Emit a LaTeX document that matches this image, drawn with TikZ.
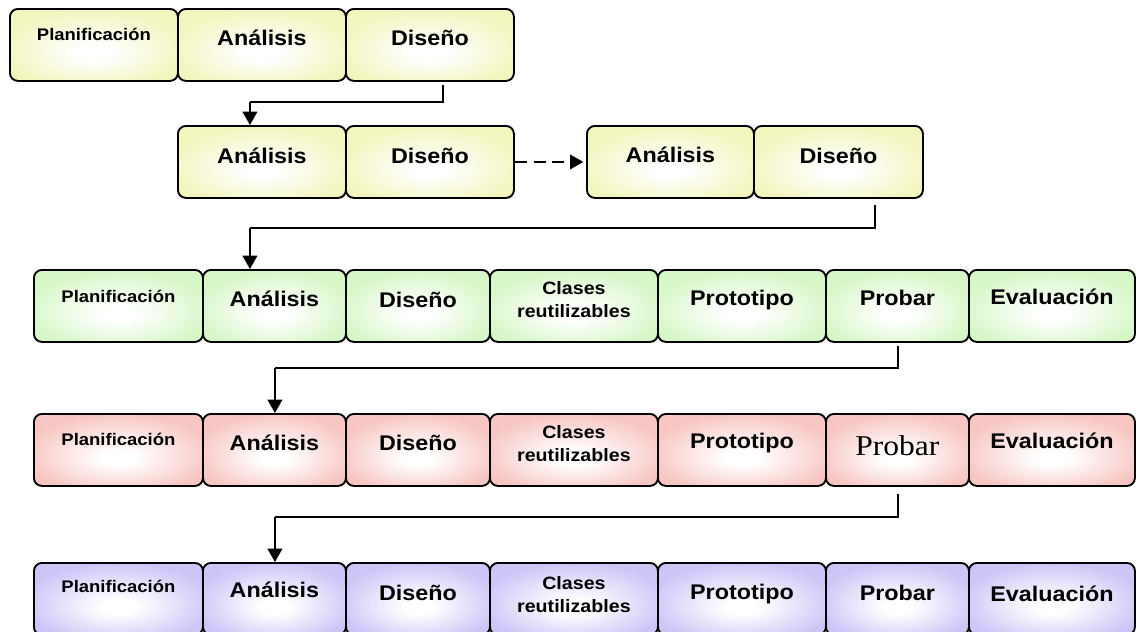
\documentclass[tikz,border=0pt]{standalone}
\usepackage{fontspec}
\newfontfamily\arialf[FakeStretch=1.1]{Liberation Sans}
\newfontfamily\timesf[FakeStretch=1.1]{Liberation Serif}
\usetikzlibrary{calc,arrows.meta}

\definecolor{yelC}{HTML}{F2F5BD}
\definecolor{grnC}{HTML}{D6F7C6}
\definecolor{pnkC}{HTML}{F7C6C2}
\definecolor{lavC}{HTML}{CCC6F7}

% soft glow: white centre slightly below the middle, fading to the row colour
\pgfdeclareradialshading{yelsh}{\pgfpoint{0bp}{-6bp}}{color(0bp)=(white); color(5bp)=(white); color(28bp)=(yelC); color(50bp)=(yelC)}
\pgfdeclareradialshading{grnsh}{\pgfpoint{0bp}{-6bp}}{color(0bp)=(white); color(5bp)=(white); color(28bp)=(grnC); color(50bp)=(grnC)}
\pgfdeclareradialshading{pnksh}{\pgfpoint{0bp}{-6bp}}{color(0bp)=(white); color(5bp)=(white); color(28bp)=(pnkC); color(50bp)=(pnkC)}
\pgfdeclareradialshading{lavsh}{\pgfpoint{0bp}{-6bp}}{color(0bp)=(white); color(5bp)=(white); color(28bp)=(lavC); color(50bp)=(lavC)}

\tikzset{
  phasebox/.style={draw=black, line width=1.4pt, rounded corners=6pt, inner sep=0pt, minimum height=54pt},
  bigtxt/.style={font=\arialf\bfseries\fontsize{15.9}{18}\selectfont},
  plantxt/.style={font=\arialf\bfseries\fontsize{12.6}{15}\selectfont},
  clstxt/.style={font=\arialf\bfseries\fontsize{13.4}{17.25}\selectfont, align=center, anchor=center},
  serftxt/.style={font=\timesf\fontsize{21.5}{24}\selectfont},
  conn/.style={draw=black, line width=0.9pt},
  downarr/.style={draw=black, line width=1.3pt, -{Triangle[width=11pt,length=10pt]}},
  dasharr/.style={draw=black, line width=1.3pt, dash pattern=on 9pt off 5pt, -{Triangle[width=11pt,length=10pt]}, shorten >=2pt},
}

% \phase{name}{left}{right}{top}{shading}{text style}{text offset}{text}
\newcommand\phase[8]{%
  \pgfmathsetmacro\phw{(#3-#2)*0.75}%
  \node[phasebox, shading=#5, minimum width=\phw pt, anchor=north west] (#1) at (#2,#4) {};
  \node[anchor=base, inner sep=0pt, #6] (#1t) at ($(#1.north)+(0,#7)$) {#8};
}

\begin{document}
\begin{tikzpicture}[x=0.75pt, y=-0.75pt]
\useasboundingbox (0,0) rectangle (1136,632);

% first iteration
\phase{p1}{9}{177}{8}{yelsh}{plantxt}{32.7}{Planificación}
\phase{a1}{177}{345}{8}{yelsh}{bigtxt}{37.7}{Análisis}
\phase{d1}{345}{513}{8}{yelsh}{bigtxt}{37.7}{Diseño}

% repeated analysis / design
\phase{a2}{177}{345}{125}{yelsh}{bigtxt}{38}{Análisis}
\phase{d2}{345}{513}{125}{yelsh}{bigtxt}{38}{Diseño}
\phase{a3}{586}{753}{125}{yelsh}{bigtxt}{37.7}{Análisis}
\phase{d3}{753}{922}{125}{yelsh}{bigtxt}{38}{Diseño}

% full cycle (green)
\phase{p4}{33}{202}{269}{grnsh}{plantxt}{33}{Planificación}
\phase{a4}{202}{345}{269}{grnsh}{bigtxt}{37}{Análisis}
\phase{d4}{345}{489}{269}{grnsh}{bigtxt}{38}{Diseño}
\phase{c4}{489}{657}{269}{grnsh}{clstxt}{31}{Clases\\reutilizables}
\phase{t4}{657}{825}{269}{grnsh}{bigtxt}{36}{Prototipo}
\phase{r4}{825}{968}{269}{grnsh}{bigtxt}{36}{Probar}
\phase{e4}{968}{1134}{269}{grnsh}{bigtxt}{35}{Evaluación}

% full cycle (red)
\phase{p5}{33}{202}{413}{pnksh}{plantxt}{32}{Planificación}
\phase{a5}{202}{345}{413}{pnksh}{bigtxt}{37.5}{Análisis}
\phase{d5}{345}{489}{413}{pnksh}{bigtxt}{37.5}{Diseño}
\phase{c5}{489}{657}{413}{pnksh}{clstxt}{31}{Clases\\reutilizables}
\phase{t5}{657}{825}{413}{pnksh}{bigtxt}{35.5}{Prototipo}
\phase{r5}{825}{968}{413}{pnksh}{serftxt}{42}{Probar}
\phase{e5}{968}{1134}{413}{pnksh}{bigtxt}{35}{Evaluación}

% full cycle (violet)
\phase{p6}{33}{202}{562}{lavsh}{plantxt}{30}{Planificación}
\phase{a6}{202}{345}{562}{lavsh}{bigtxt}{35}{Análisis}
\phase{d6}{345}{489}{562}{lavsh}{bigtxt}{38}{Diseño}
\phase{c6}{489}{657}{562}{lavsh}{clstxt}{33}{Clases\\reutilizables}
\phase{t6}{657}{825}{562}{lavsh}{bigtxt}{37}{Prototipo}
\phase{r6}{825}{968}{562}{lavsh}{bigtxt}{38}{Probar}
\phase{e6}{968}{1134}{562}{lavsh}{bigtxt}{39.5}{Evaluación}

% connectors between stages
\coordinate (k1s) at ($(d1.south)+(13,3)$);
\coordinate (k1e) at ($(a2.north)+(-12,0)$);
\coordinate (k1m) at (k1e |- 0,102);
\draw[conn] (k1s) |- (k1m);
\draw[downarr] (k1m) -- (k1e);

\draw[dasharr] (d2.east) -- (a3.west);

\coordinate (k2s) at ($(d3.south)+(36.5,6)$);
\coordinate (k2e) at ($(a4.north)+(-24.5,0)$);
\coordinate (k2m) at (k2e |- 0,228);
\draw[conn] (k2s) |- (k2m);
\draw[downarr] (k2m) -- (k2e);

\coordinate (k3s) at ($(r4.south)+(0.5,3)$);
\coordinate (k3e) at ($(a5.north)+(0.5,0)$);
\coordinate (k3m) at (k3e |- 0,368);
\draw[conn] (k3s) |- (k3m);
\draw[downarr] (k3m) -- (k3e);

\coordinate (k4s) at ($(r5.south)+(0.5,7)$);
\coordinate (k4e) at ($(a6.north)+(0.5,0)$);
\coordinate (k4m) at (k4e |- 0,517);
\draw[conn] (k4s) |- (k4m);
\draw[downarr] (k4m) -- (k4e);
\end{tikzpicture}
\end{document}
